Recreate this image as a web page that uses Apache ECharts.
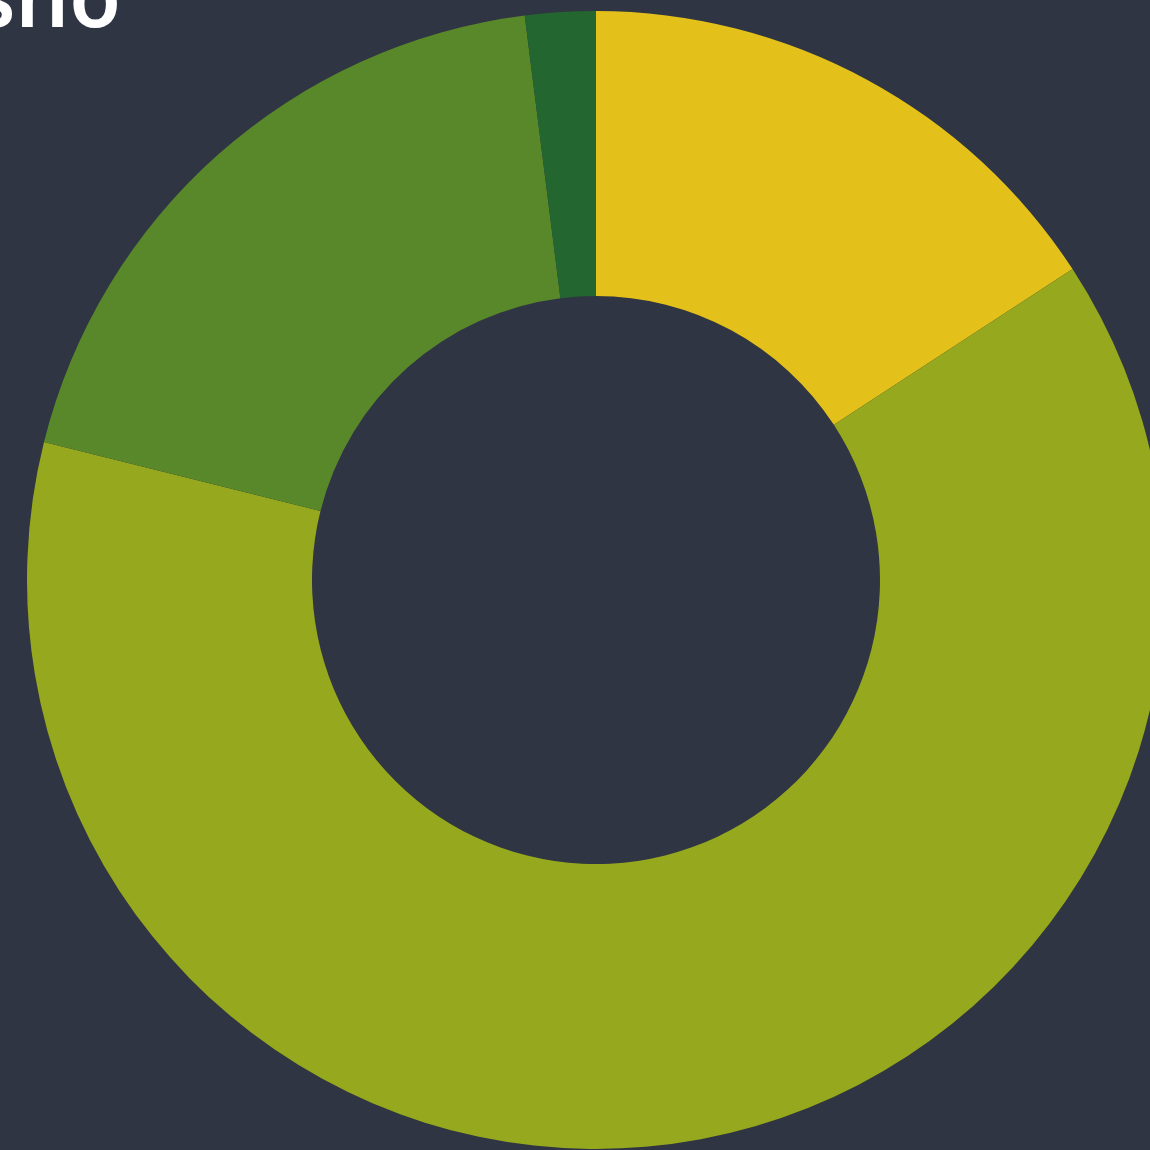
<!DOCTYPE html>
<html>
<head>
<meta charset="utf-8">
<script src="https://cdn.jsdelivr.net/npm/echarts@6/dist/echarts.min.js"></script>
<style>
html, body { margin: 0; padding: 0; background: #2f3542; }
#chart { width: 1150px; height: 1150px; }
</style>
</head>
<body>
<div id="chart"></div>
<script>
const categories = ['A', 'B', 'C', 'D'];
const values = [15.8, 63.1, 19.1, 2.0];
const colors = ['#e3c01a', '#96a81d', '#59882a', '#236630'];
const titleText = 'Brašno';

const init = () => {
    const myChart = echarts.init(document.getElementById('chart'));
    let option = {
        backgroundColor: '#2f3542',
        title: {
            text: titleText,
            right: 1024,
            top: -44,
            textStyle: {
                color: '#ffffff',
                fontFamily: 'Noto Sans',
                fontWeight: 600,
                fontSize: 84
            }
        },
        series: [
            {
                type: 'pie',
                center: [596, 580],
                radius: [284, 569],
                startAngle: 90,
                clockwise: true,
                label: { show: false },
                labelLine: { show: false },
                emphasis: { disabled: true },
                animation: false,
                data: categories.map((name, i) => ({
                    name: name,
                    value: values[i],
                    itemStyle: { color: colors[i] }
                }))
            }
        ]
    };
    myChart.setOption(option);
    window.addEventListener('resize', () => {
        myChart.resize();
    });
};
init();
</script>
</body>
</html>
